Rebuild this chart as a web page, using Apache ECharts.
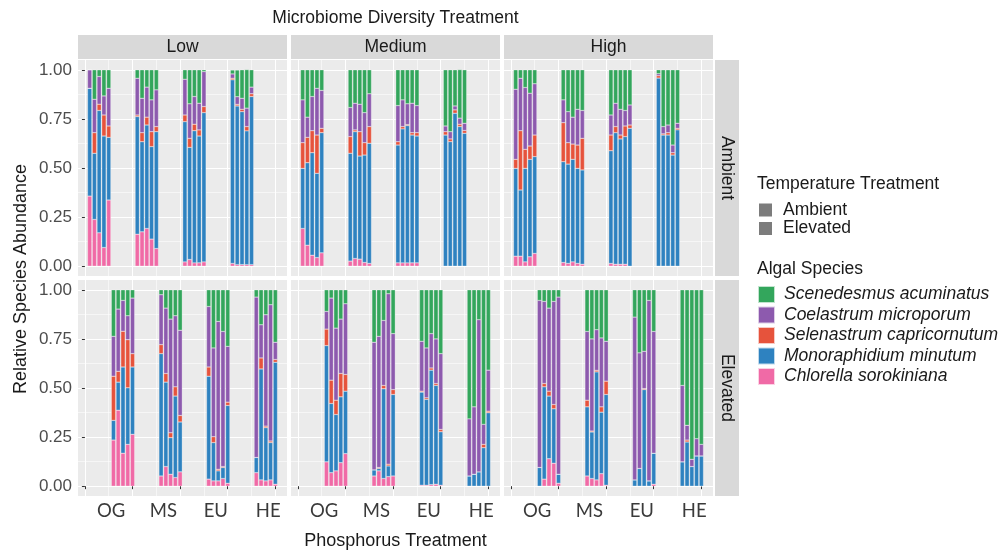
<!DOCTYPE html>
<html><head><meta charset="utf-8">
<script src="https://cdn.jsdelivr.net/npm/echarts@6/dist/echarts.min.js"></script>
<style>html,body{margin:0;padding:0;background:#fff}#c{width:1001px;height:554px}</style>
</head><body><div id="c"></div><script>
// ---------------- DATA ----------------
const diversityLevels = ['Low', 'Medium', 'High'];
const temperatureLevels = ['Ambient', 'Elevated'];
const phosphorusLabels = ['OG', 'MS', 'EU', 'HE'];
const phosphorusLabelAt = [5.5, 16.5, 27.5, 38.5];
// stack order bottom -> top
const species = ['Chlorella sorokiniana', 'Monoraphidium minutum', 'Selenastrum capricornutum', 'Coelastrum microporum', 'Scenedesmus acuminatus'];
const legendOrder = ['Scenedesmus acuminatus', 'Coelastrum microporum', 'Selenastrum capricornutum', 'Monoraphidium minutum', 'Chlorella sorokiniana'];
const speciesColors = ['#f06aa6', '#2e82c0', '#e6533c', '#8d5aae', '#33a65c'];
// replicate slots on the x scale (OG, MS, EU, HE x 5 replicates)
const ambientSlots = [1, 2, 3, 4, 5, 11, 12, 13, 14, 15, 21, 22, 23, 24, 25, 31, 32, 33, 34, 35];
const elevatedSlots = [6, 7, 8, 9, 10, 16, 17, 18, 19, 20, 26, 27, 28, 29, 30, 36, 37, 38, 39, 40];
const yTicks = [0, 0.25, 0.5, 0.75, 1];
const yTickLabels = ['0.00', '0.25', '0.50', '0.75', '1.00'];
const yMinor = [0.125, 0.375, 0.625, 0.875];
const xMajor = [0, 10, 20, 30, 40];
const xMinor = [5, 15, 25, 35];

// Low diversity, Ambient
const lowAmb_chl = [.357,.238,.170,.095,.337, .163,.175,.192,.138,.090, .022,.034,.017,.017,.022, .014,.008,.008,.008,.008];
const lowAmb_mon = [.549,.337,.623,.568,.319, .599,.459,.527,.471,.595, .714,.571,.673,.646,.760, .935,.808,.779,.681,.856];
const lowAmb_sel = [0,.105,.032,.107,.058, .008,.046,.040,.076,.026, .034,.046,.033,.031,.031, .008,.008,.012,.022,.014];
const lowAmb_coe = [.094,.170,.141,.097,.192, .187,.175,.153,.162,.187, .182,.176,.141,.136,.178, .022,.039,.056,.094,.034];
const lowAmb_sce = [0,.150,.034,.133,.094, .043,.145,.088,.153,.102, .048,.173,.136,.170,.009, .020,.136,.145,.196,.088];
// Medium diversity, Ambient
const medAmb_chl = [.192,.107,.056,.044,.068, .026,.039,.036,.019,.014, .017,.017,.017,.017,.017, 0,0,0,0,0];
const medAmb_mon = [.306,.420,.522,.429,.612, .549,.646,.525,.547,.612, .600,.682,.699,.651,.646, .668,.634,.779,.711,.677];
const medAmb_sel = [.131,.129,.112,.195,.022, .085,.009,.124,.063,.085, .017,.012,.005,.012,.017, .017,.014,.017,.012,.014];
const medAmb_coe = [.218,.103,.174,.238,.193, .148,.136,.140,.153,.167, .184,.136,.106,.150,.138, .029,.037,.020,.031,.037];
const medAmb_sce = [.153,.241,.136,.094,.105, .192,.170,.175,.218,.122, .182,.153,.173,.170,.182, .286,.315,.184,.247,.272];
// High diversity, Ambient
const highAmb_chl = [.051,.051,.022,.048,.065, .019,.014,.022,.014,.010, .014,.010,.010,.010,0, 0,0,0,0,0];
const highAmb_mon = [.447,.337,.476,.496,.493, .513,.506,.522,.484,.480, .574,.670,.638,.650,.702, .958,.668,.668,.566,.694];
const highAmb_sel = [.046,.302,.097,.068,.110, .199,.109,.078,.119,.161, .080,.031,.020,.054,.017, .012,.006,.012,.012,.008];
const highAmb_coe = [.357,.267,.315,.269,.261, .116,.158,.137,.182,.142, .102,.119,.131,.079,.102, .010,.037,.039,.039,.026];
const highAmb_sce = [.099,.043,.090,.119,.071, .153,.213,.241,.201,.207, .230,.170,.201,.207,.179, .020,.289,.281,.383,.272];
// Low diversity, Elevated
const lowElv_chl = [.235,.387,.168,.213,.264, .052,.100,.061,.044,.073, .036,.027,.027,.039,.015, .069,.032,.027,.032,.010];
const lowElv_mon = [.100,.143,.439,.288,.343, .623,.430,.186,.415,.254, .524,.195,.051,.056,.396, .077,.565,.271,.190,.621];
const lowElv_sel = [.225,.055,.182,.245,.068, .046,.044,.025,.047,.033, .047,.030,.008,.005,.017, 0,.056,.008,.008,.014];
const lowElv_coe = [.203,.317,.157,.122,.283, .254,.333,.579,.362,.434, .308,.452,.753,.688,.284, .817,.169,.567,.694,.088];
const lowElv_sce = [.237,.098,.054,.132,.042, .025,.093,.149,.132,.206, .085,.296,.161,.212,.288, .037,.178,.127,.076,.267];
// Medium diversity, Elevated
const medElv_chl = [.124,.069,.078,.120,.166, .052,.078,.039,.049,.052, .005,.005,.008,.010,.005, 0,0,0,0,0];
const medElv_mon = [.592,.352,.287,.335,.318, .031,.012,.457,.054,.415, .474,.437,.583,.503,.272, .052,.061,.073,.196,.374];
const medElv_sel = [.084,.119,.073,.119,.085, 0,.005,.017,.009,.025, .005,.008,.011,.010,.012, 0,0,0,.017,.008];
const medElv_coe = [.090,.418,.367,.277,.360, .650,.668,.331,.868,.285, .254,.254,.175,.227,.386, .291,.343,.775,.102,.209];
const medElv_sce = [.110,.042,.195,.149,.071, .267,.237,.156,.020,.223, .262,.296,.223,.250,.325, .657,.596,.152,.685,.409];
// High diversity, Elevated
const highElv_chl = [0,.036,.140,.117,.015, .052,.039,.032,.064,.005, 0,0,0,0,.010, 0,0,0,0,0];
const highElv_mon = [.095,.470,.319,.277,.046, .352,.237,.550,.313,.462, .032,.090,.492,.027,.158, .124,.225,.100,.154,.154];
const highElv_sel = [0,.017,.025,.022,0, .034,.005,.008,.027,.068, 0,0,.005,0,0, 0,.010,0,0,0];
const highElv_coe = [.851,.418,.423,.525,.902, .350,.469,.207,.351,.203, .829,.589,.190,.919,.620, .389,.075,.037,.088,.059];
const highElv_sce = [.054,.059,.093,.059,.037, .212,.250,.203,.245,.262, .139,.321,.313,.054,.212, .487,.690,.863,.758,.787];

const panels = [
  [[lowAmb_chl, lowAmb_mon, lowAmb_sel, lowAmb_coe, lowAmb_sce],
   [medAmb_chl, medAmb_mon, medAmb_sel, medAmb_coe, medAmb_sce],
   [highAmb_chl, highAmb_mon, highAmb_sel, highAmb_coe, highAmb_sce]],
  [[lowElv_chl, lowElv_mon, lowElv_sel, lowElv_coe, lowElv_sce],
   [medElv_chl, medElv_mon, medElv_sel, medElv_coe, medElv_sce],
   [highElv_chl, highElv_mon, highElv_sel, highElv_coe, highElv_sce]]
];
const rowSlots = [ambientSlots, elevatedSlots];

// ---------------- LAYOUT ----------------
const FONT = "'Liberation Sans', Arial, sans-serif";
const FS = 17.5;
const COL_LEFT = [78, 291, 504], PANEL_W = 209;
const ROW_TOP = [60, 280], PANEL_H = 216;
const X_MIN = -1.45, X_MAX = 42.45, Y_MIN = -0.05, Y_MAX = 1.05;
const STRIP_TOP = 35, STRIP_H = 24, STRIP_RIGHT_X = 715, STRIP_W = 24;

function nearestIdx(arr, v) {
  let b = 0;
  for (let i = 1; i < arr.length; i++) if (Math.abs(arr[i] - v) < Math.abs(arr[b] - v)) b = i;
  return b;
}

const grids = [], xAxes = [], yAxes = [], series = [];
for (let r = 0; r < 2; r++) {
  for (let c = 0; c < 3; c++) {
    const g = grids.length;
    grids.push({left: COL_LEFT[c], top: ROW_TOP[r], width: PANEL_W, height: PANEL_H,
      show: true, backgroundColor: '#ebebeb', borderWidth: 0});
    const showX = r === 1, showY = c === 0;
    xAxes.push({gridIndex: g, type: 'value', min: X_MIN, max: X_MAX, position: 'bottom',
      axisLine: {show: false},
      axisTick: {show: showX, customValues: xMajor, length: 3, lineStyle: {color: '#333', width: 1}},
      axisLabel: {show: showX, customValues: phosphorusLabelAt, margin: 6,
        formatter: v => phosphorusLabels[nearestIdx(phosphorusLabelAt, v)],
        color: '#3a3a3a', fontSize: 18.5, fontFamily: "Lato, 'Open Sans', sans-serif"},
      splitLine: {show: true, lineStyle: {color: '#ffffff', width: 1.1}}});
    xAxes.push({gridIndex: g, type: 'value', min: X_MIN, max: X_MAX, position: 'top',
      axisLine: {show: false}, axisTick: {show: false, customValues: xMinor},
      axisLabel: {show: false},
      splitLine: {show: true, lineStyle: {color: '#ffffff', width: 0.55}}});
    yAxes.push({gridIndex: g, type: 'value', min: Y_MIN, max: Y_MAX, position: 'left',
      axisLine: {show: false},
      axisTick: {show: showY, customValues: yTicks, length: 3, lineStyle: {color: '#333', width: 1}},
      axisLabel: {show: showY, customValues: yTicks, margin: 6,
        formatter: v => yTickLabels[nearestIdx(yTicks, v)],
        color: '#4d4d4d', fontSize: 17, fontFamily: FONT},
      splitLine: {show: true, lineStyle: {color: '#ffffff', width: 1.1}}});
    yAxes.push({gridIndex: g, type: 'value', min: Y_MIN, max: Y_MAX, position: 'right',
      axisLine: {show: false}, axisTick: {show: false, customValues: yMinor},
      axisLabel: {show: false},
      splitLine: {show: true, lineStyle: {color: '#ffffff', width: 0.55}}});
    const slots = rowSlots[r];
    panels[r][c].forEach((vals, s) => {
      // value first so that the stacked dimension is the abundance; x read through encode
      series.push({type: 'bar', name: species[s], xAxisIndex: 2 * g, yAxisIndex: 2 * g,
        stack: 'p' + g, barWidth: 4.3,
        dimensions: ['abundance', 'slot'], encode: {x: 'slot', y: 'abundance'},
        itemStyle: {color: speciesColors[s], borderColor: 'rgba(255,255,255,0.7)', borderWidth: 0.4},
        data: slots.map((x, i) => [vals[i], x])});
    });
  }
}
// keys for the temperature legend
temperatureLevels.forEach(t => series.push({type: 'scatter', name: t, data: [], xAxisIndex: 0, yAxisIndex: 0,
  itemStyle: {color: '#5b5b5b'}}));

const graphic = [];
function txt(text, x, y, size, opts) {
  return Object.assign({type: 'text', x, y, silent: true,
    style: Object.assign({text, fill: '#1a1a1a', font: size + 'px ' + FONT,
      align: 'center', verticalAlign: 'middle', textAlign: 'center', textVerticalAlign: 'middle'}, opts && opts.style)},
    opts && opts.el);
}
diversityLevels.forEach((d, c) => {
  graphic.push({type: 'rect', silent: true, shape: {x: COL_LEFT[c], y: STRIP_TOP, width: PANEL_W, height: STRIP_H},
    style: {fill: '#d9d9d9'}});
  graphic.push(txt(d, COL_LEFT[c] + PANEL_W / 2, STRIP_TOP + STRIP_H / 2, FS));
});
temperatureLevels.forEach((t, r) => {
  graphic.push({type: 'rect', silent: true, shape: {x: STRIP_RIGHT_X, y: ROW_TOP[r], width: STRIP_W, height: PANEL_H},
    style: {fill: '#d9d9d9'}});
  graphic.push(txt(t, STRIP_RIGHT_X + STRIP_W / 2, ROW_TOP[r] + PANEL_H / 2, FS, {el: {rotation: -Math.PI / 2}}));
});
graphic.push(txt('Microbiome Diversity Treatment', 395.5, 18, FS));
graphic.push(txt('Phosphorus Treatment', 395.5, 541, 18));
graphic.push(txt('Relative Species Abundance', 21, 279, 18, {el: {rotation: Math.PI / 2}}));
graphic.push(txt('Temperature Treatment', 757, 184, FS, {style: {align: 'left', textAlign: 'left'}}));
graphic.push(txt('Algal Species', 757, 269, FS, {style: {align: 'left', textAlign: 'left'}}));

const option = {
  animation: false,
  backgroundColor: '#ffffff',
  grid: grids, xAxis: xAxes, yAxis: yAxes, series,
  legend: [
    {data: temperatureLevels, orient: 'vertical', left: 759, top: 201, padding: 0, icon: 'rect',
      itemWidth: 13, itemHeight: 13, itemGap: 0.5, selectedMode: false,
      textStyle: {fontSize: FS, color: '#1a1a1a', fontFamily: FONT, padding: [0, 0, 0, 6]}},
    {data: legendOrder, orient: 'vertical', left: 757, top: 285, padding: 0, icon: 'rect',
      itemWidth: 17, itemHeight: 17, itemGap: 1.5, selectedMode: false,
      textStyle: {fontSize: FS, color: '#1a1a1a', fontFamily: FONT, fontStyle: 'italic', padding: [0, 0, 0, 4]}}
  ],
  graphic
};
const chart = echarts.init(document.getElementById('c'), null, {renderer: 'canvas'});
chart.setOption(option);
</script></body></html>
